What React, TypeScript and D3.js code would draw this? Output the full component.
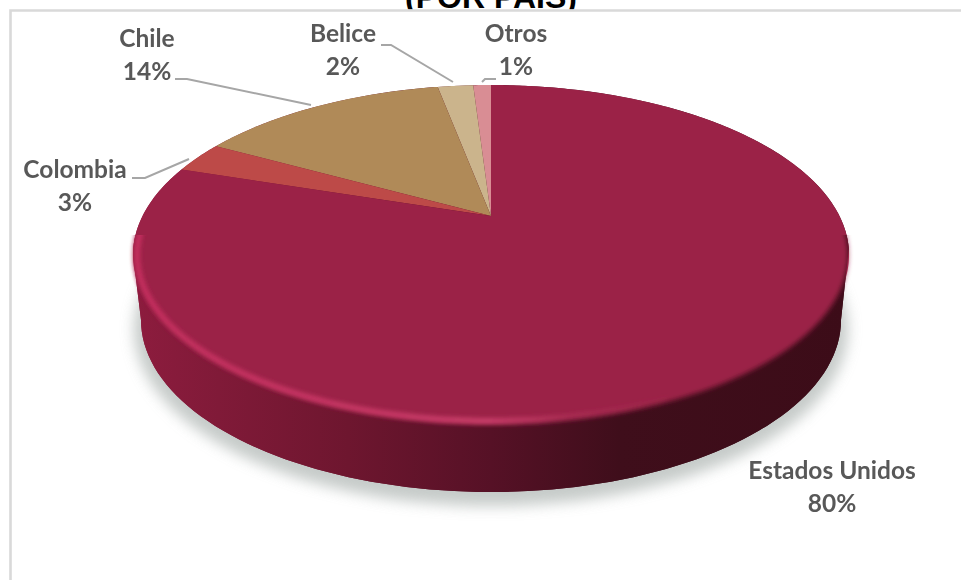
import React from "react";
import * as d3 from "d3";

const categories = ["Otros", "Belice", "Chile", "Colombia", "Estados Unidos"];
const shares = [1, 2, 14, 3, 80];
const sliceColors = ["#d98d94", "#cbb48c", "#b08a58", "#bd4a48", "#9b2247"];
const titleText = "(POR PAÍS)";

// Label placement and leader polylines, by category.
const labelAnchors: Record<string, [number, number]> = {
  Otros: [516, 42],
  Belice: [343, 42],
  Chile: [147, 47],
  Colombia: [75, 178],
  "Estados Unidos": [832, 479],
};
const leaders: Record<string, [number, number][]> = {
  Otros: [[496, 79], [485, 79], [482, 82]],
  Belice: [[381, 45], [391, 45], [453, 82]],
  Chile: [[175, 79], [187, 79], [311, 105]],
  Colombia: [[132, 178], [145, 178], [189, 159]],
};

// Perspective projection of the unit disc onto the chart plane.
const apexX = 491;
const apexY = 216;
const tilt = 0.229;
const scaleU = 348.5;
const scaleV = 161;
const project = (u: number, v: number): [number, number] => {
  const w = 1 + tilt * v;
  return [apexX + (scaleU * u) / w, apexY - (scaleV * v) / w];
};

const pie = d3.pie<number>().sort(null).startAngle(0).endAngle(-2 * Math.PI);
const arcs = pie(shares);
const line = d3.line();

function wedgePath(a0: number, a1: number): string {
  const steps = Math.max(2, Math.ceil(Math.abs(a1 - a0) / 0.01));
  const pts: [number, number][] = [[apexX, apexY]];
  d3.range(steps + 1).forEach((i) => {
    const a = a0 + ((a1 - a0) * i) / steps;
    pts.push(project(Math.sin(a), Math.cos(a)));
  });
  return line(pts) + "Z";
}

// Top ellipse and base ellipse of the disc, used for the wall and the bevel.
const baseCx = 491;
const baseCy = 320;
const baseRx = 350;
const baseRy = 172;
const topCy = 255;
const topRx = 358;
const topRy = 170;
const ellipsePoints = (cy: number, rx: number, ry: number, from: number, to: number, inset = 0) =>
  d3.range(from, to + 1, 2).map((d): [number, number] => {
    const t = (d * Math.PI) / 180;
    return [baseCx + (rx - inset) * Math.cos(t), cy + (ry - inset) * Math.sin(t)];
  });

const wallPath = () =>
  line([
    ...ellipsePoints(baseCy, baseRx, baseRy, 0, 180),
    ...ellipsePoints(topCy, topRx, topRy, 180, 358),
  ]) + "Z";

const wallStops: [number, string][] = [
  [0, "#8d1c3e"],
  [0.12, "#801a38"],
  [0.3, "#6e162f"],
  [0.5, "#561126"],
  [0.68, "#3f0e1b"],
  [1, "#3c0c18"],
];

export default function App() {
  return (
    <svg
      width={961}
      height={580}
      style={{ position: "absolute", left: 0, top: 0, background: "#fff" }}
      fontFamily="Lato, sans-serif"
    >
      <defs>
        <linearGradient id="wall" x1="0" x2="1" y1="0" y2="0">
          {wallStops.map(([o, c]) => (
            <stop key={o} offset={o} stopColor={c} />
          ))}
        </linearGradient>
        <linearGradient id="bevel" gradientUnits="userSpaceOnUse" x1={133} x2={680} y1={0} y2={0}>
          <stop offset="0" stopColor="#c42e5e" />
          <stop offset="0.65" stopColor="#c83d69" />
          <stop offset="0.8" stopColor="#c83d69" stopOpacity={0.35} />
          <stop offset="1" stopColor="#c83d69" stopOpacity={0} />
        </linearGradient>
        <filter id="shadow" x="-10%" y="-10%" width="120%" height="120%">
          <feGaussianBlur stdDeviation="7" />
        </filter>
        <filter id="edge" x="-5%" y="-5%" width="110%" height="110%">
          <feGaussianBlur stdDeviation="2.6" />
        </filter>
        <filter id="glow" x="-5%" y="-5%" width="110%" height="110%">
          <feGaussianBlur stdDeviation="2.2" />
        </filter>
        <filter id="glyph">
          <feGaussianBlur stdDeviation="0.4" />
        </filter>
        <clipPath id="titleClip">
          <rect x={0} y={0} width={961} height={9.5} />
        </clipPath>
        <clipPath id="lowerHalf">
          <rect x={100} y={topCy - 20} width={800} height={300} />
        </clipPath>
      </defs>

      <text
        x={491}
        y={7.5}
        textAnchor="middle"
        fontFamily="Liberation Sans, Arial, sans-serif"
        fontWeight={700}
        fontSize={32}
        fill="#000"
        clipPath="url(#titleClip)"
      >
        {titleText}
      </text>

      <path d="M10.5 580V10.5H961" fill="none" stroke="#d9d9d9" strokeWidth={2.6} />

      {/* ground shadow */}
      <ellipse cx={baseCx} cy={baseCy + 9} rx={baseRx + 7} ry={baseRy + 5} fill="#aeb5b2" opacity={0.7} filter="url(#shadow)" />

      {/* wall of the disc */}
      <path d={wallPath()} fill="url(#wall)" />

      {/* pie slices, crisp */}
      {arcs.map((d, i) => (
        <path key={categories[i]} d={wedgePath(d.startAngle, d.endAngle)} fill={sliceColors[i]} />
      ))}

      {/* the wall's dark rises up under a soft lower edge of the top face */}
      <g clipPath="url(#lowerHalf)">
        <path d={wallPath()} fill="url(#wall)" />
        <ellipse cx={baseCx} cy={topCy} rx={topRx - 1} ry={topRy - 1} fill="#9b2247" filter="url(#edge)" />
        <path
          d={line(ellipsePoints(topCy, topRx, topRy, 60, 190, 4)) ?? ""}
          fill="none"
          stroke="url(#bevel)"
          strokeWidth={6}
          filter="url(#glow)"
        />
      </g>

      {/* leader lines */}
      {categories.map((c) =>
        leaders[c] ? (
          <path key={c} d={line(leaders[c]) ?? ""} fill="none" stroke="#a6a6a6" strokeWidth={2} />
        ) : null
      )}

      {/* data labels */}
      <g filter="url(#glyph)">
        {categories.map((c, i) => (
          <text key={c} textAnchor="middle" fontSize={24.5} fontWeight={700} fill="#595959">
            <tspan x={labelAnchors[c][0]} y={labelAnchors[c][1]}>{c}</tspan>
            <tspan x={labelAnchors[c][0]} dy={33}>{shares[i]}%</tspan>
          </text>
        ))}
      </g>
    </svg>
  );
}
